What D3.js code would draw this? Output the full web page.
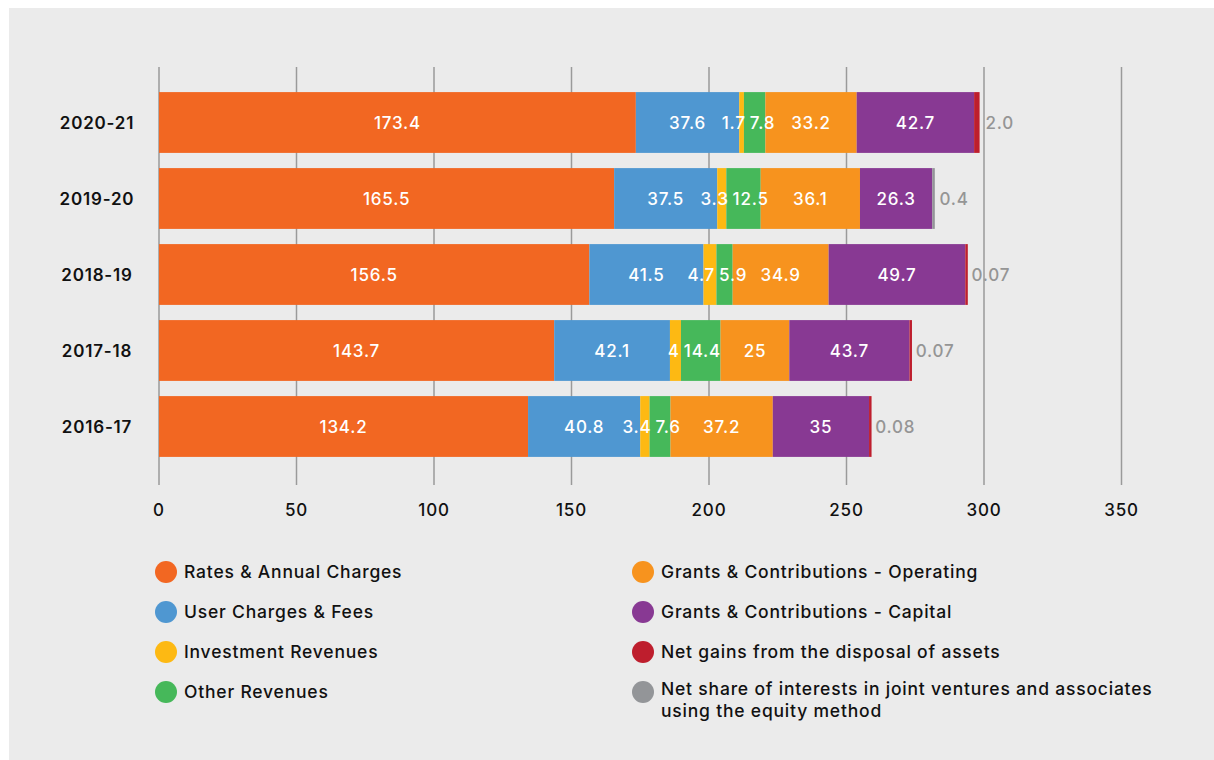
<!DOCTYPE html>
<html>
<head>
<meta charset="utf-8">
<script src="https://cdn.jsdelivr.net/npm/d3@7"></script>
<style>
  html, body { margin: 0; padding: 0; background: #ffffff; }
  svg { display: block; }
  text { font-family: Inter, "Open Sans", sans-serif; letter-spacing: 0.8px; }
</style>
</head>
<body>
<svg id="chart" width="1214" height="760"></svg>
<script>
// Financial years, top to bottom
const years = ["2020-21", "2019-20", "2018-19", "2017-18", "2016-17"];

// Revenue series ($m), one array per category, in year order
const ratesAnnualCharges   = [173.4, 165.5, 156.5, 143.7, 134.2];
const userChargesFees      = [37.6, 37.5, 41.5, 42.1, 40.8];
const investmentRevenues   = [1.7, 3.3, 4.7, 4, 3.4];
const otherRevenues        = [7.8, 12.5, 5.9, 14.4, 7.6];
const grantsOperating      = [33.2, 36.1, 34.9, 25, 37.2];
const grantsCapital        = [42.7, 26.3, 49.7, 43.7, 35];
const netGainsDisposal     = [2.0, 0, 0.07, 0.07, 0.08];
const netShareJointVenture = [0, 0.4, 0, 0, 0];

// Printed label text for the end-of-bar values
const endLabels = ["2.0", "0.4", "0.07", "0.07", "0.08"];

const seriesNames = [
  "Rates & Annual Charges",
  "User Charges & Fees",
  "Investment Revenues",
  "Other Revenues",
  "Grants & Contributions - Operating",
  "Grants & Contributions - Capital",
  "Net gains from the disposal of assets",
  "Net share of interests in joint ventures and associates using the equity method"
];
const seriesValues = [
  ratesAnnualCharges, userChargesFees, investmentRevenues, otherRevenues,
  grantsOperating, grantsCapital, netGainsDisposal, netShareJointVenture
];
const seriesColors = ["#f26722", "#4f97d1", "#fdb913", "#46b85a", "#f7931e", "#883993", "#be1e2d", "#939598"];

const xTicks = [0, 50, 100, 150, 200, 250, 300, 350];

const svg = d3.select("#chart");

// Panel background
svg.append("rect").attr("x", 9).attr("y", 8).attr("width", 1205).attr("height", 752).attr("fill", "#ebebeb");

const x = d3.scaleLinear().domain([0, 300]).range([159, 984]);
const y = d3.scaleBand().domain(years).range([84.5, 464.5]).paddingInner(0.2).paddingOuter(0.1);

// Vertical gridlines
svg.append("g").selectAll("line").data(xTicks).join("line")
  .attr("x1", d => x(d)).attr("x2", d => x(d))
  .attr("y1", 67).attr("y2", 485)
  .attr("stroke", "#9a9a9a").attr("stroke-width", 1.5);

// X tick labels
svg.append("g").selectAll("text").data(xTicks).join("text")
  .attr("x", d => x(d)).attr("y", 516)
  .attr("text-anchor", "middle")
  .attr("font-size", 17).attr("font-weight", 500).attr("fill", "#111")
  .text(d => d);

// Year labels
svg.append("g").selectAll("text").data(years).join("text")
  .attr("x", 97).attr("y", d => y(d) + y.bandwidth() / 2 + 6)
  .attr("text-anchor", "middle")
  .attr("font-size", 17).attr("font-weight", 600).attr("fill", "#111")
  .text(d => d);

// Stacked segments
const rows = years.map((yr, i) => {
  const row = { year: yr };
  seriesNames.forEach((s, k) => { row[s] = seriesValues[k][i]; });
  return row;
});
const stacked = d3.stack().keys(seriesNames)(rows);

const layers = svg.append("g").selectAll("g").data(stacked).join("g")
  .attr("fill", (d, k) => seriesColors[k]);

layers.selectAll("rect").data(d => d.filter(p => p[1] - p[0] > 0)).join("rect")
  .attr("x", p => x(p[0]))
  .attr("y", p => y(p.data.year))
  .attr("height", y.bandwidth())
  .attr("width", p => Math.max(x(p[1]) - x(p[0]), 2.5));

// Inside-bar value labels (first six categories), spread apart where they collide
const labelGroup = svg.append("g");
years.forEach((yr, i) => {
  const items = stacked.slice(0, 6).map(layer => {
    const p = layer[i];
    return { cx: (x(p[0]) + x(p[1])) / 2, text: d3.format("~g")(p[1] - p[0]) };
  });
  const nodes = labelGroup.selectAll(null).data(items).join("text")
    .attr("y", y(yr) + y.bandwidth() / 2 + 6)
    .attr("text-anchor", "middle")
    .attr("font-size", 17).attr("font-weight", 500).attr("fill", "#ffffff")
    .text(d => d.text);
  nodes.each(function(d) { d.w = this.getComputedTextLength(); d.pos = d.cx; });
  const gap = 4;
  for (let iter = 0; iter < 60; iter++) {
    for (let k = 0; k < items.length - 1; k++) {
      const a = items[k], b = items[k + 1];
      const need = (a.w + b.w) / 2 + gap - (b.pos - a.pos);
      if (need > 0) { a.pos -= need / 2; b.pos += need / 2; }
    }
  }
  nodes.attr("x", d => d.pos);
});

// End-of-bar value labels
const last = stacked[stacked.length - 1];
svg.append("g").selectAll("text").data(last).join("text")
  .attr("x", p => x(p[1]) + 6)
  .attr("y", p => y(p.data.year) + y.bandwidth() / 2 + 6)
  .attr("font-size", 17).attr("font-weight", 500).attr("fill", "#959595")
  .text((p, i) => endLabels[i]);

// Legend
const legendPos = seriesNames.map((s, k) => ({
  name: s, color: seriesColors[k],
  cx: k < 4 ? 166 : 643,
  cy: 572 + (k % 4) * 40
}));
const leg = svg.append("g").selectAll("g").data(legendPos).join("g");
leg.append("circle")
  .attr("cx", d => d.cx).attr("cy", d => d.cy).attr("r", 11)
  .attr("fill", d => d.color);
leg.append("text")
  .attr("x", d => d.cx + 18).attr("y", d => d.cy + 6)
  .attr("font-size", 17.5).attr("font-weight", 500).attr("fill", "#111")
  .each(function(d) {
    const t = d3.select(this);
    if (d.name.startsWith("Net share")) {
      t.attr("y", d.cy + 3);
      t.append("tspan").attr("x", d.cx + 18).text("Net share of interests in joint ventures and associates");
      t.append("tspan").attr("x", d.cx + 18).attr("dy", 22).text("using the equity method");
    } else {
      t.text(d.name);
    }
  });
</script>
</body>
</html>
